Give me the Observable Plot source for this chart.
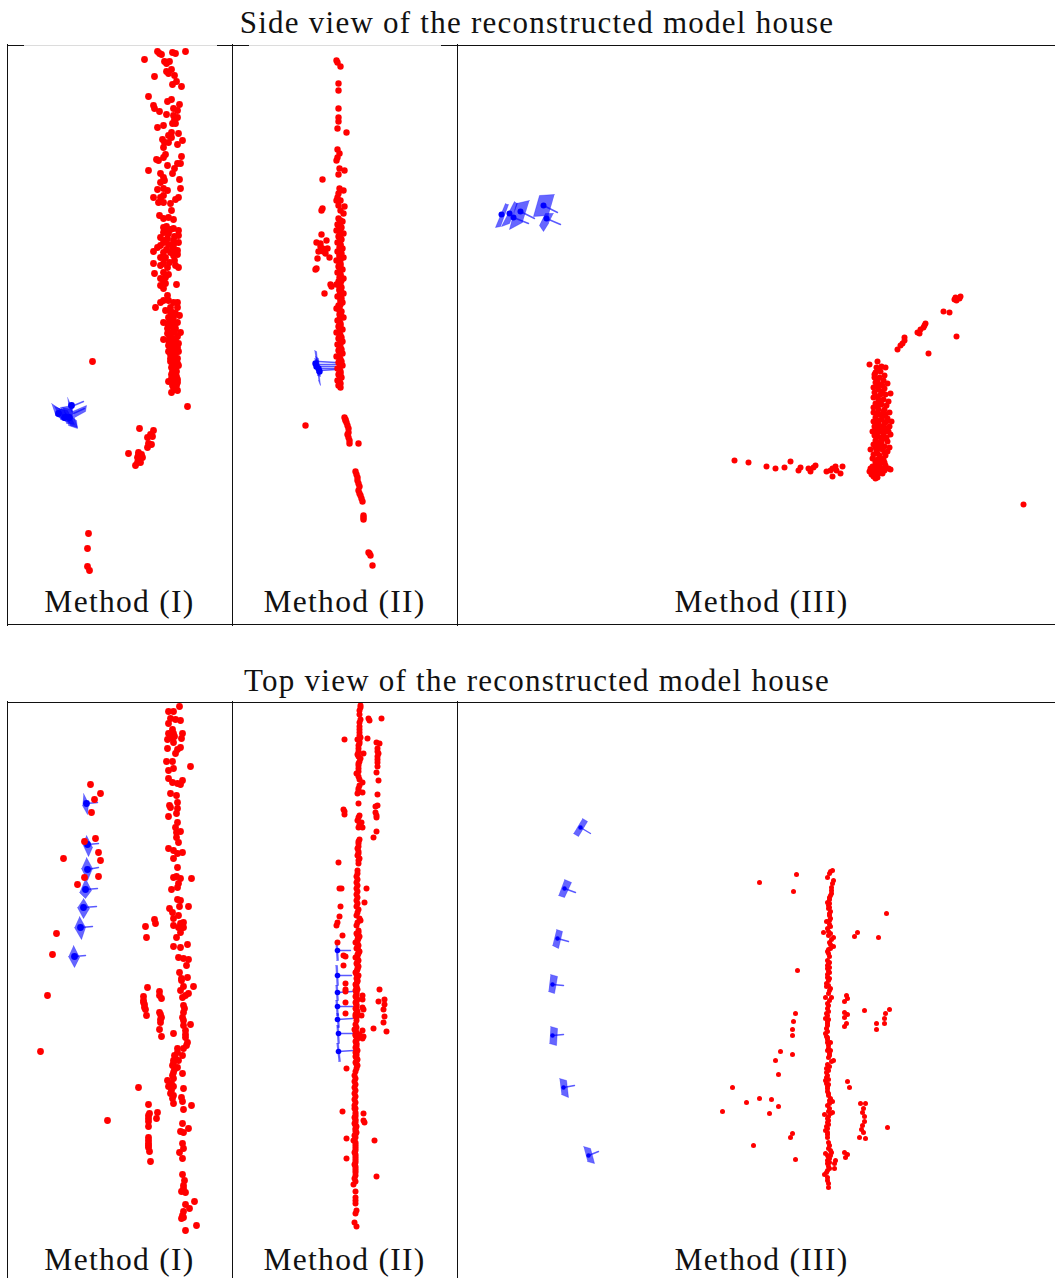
<!DOCTYPE html>
<html>
<head>
<meta charset="utf-8">
<script src="https://cdn.jsdelivr.net/npm/d3@7"></script>
<script src="https://cdn.jsdelivr.net/npm/@observablehq/plot@0.6"></script>
<style>
html,body{margin:0;padding:0;background:#fff}
#page{position:relative;width:1055px;height:1278px;overflow:hidden;font-family:"Liberation Serif",serif;color:#111}
.title{position:absolute;left:0;width:1074px;text-align:center;font-size:31px;line-height:36px;letter-spacing:1.24px;white-space:nowrap}
svg{position:absolute;background:transparent}
</style>
</head>
<body>
<div id="page"></div>
<script>
const titles = ["Side view of the reconstructed model house","Top view of the reconstructed model house"];
const methods = ["Method (I)","Method (II)","Method (III)"];

// Red scene points
const sideRed1 = [[157,51],[159,53],[161,54],[172,52],[175,53],[185,51],[144,59],[164,61],[169,61],[166,63],[154,76],[166,71],[168,73],[171,69],[174,75],[176,81],[172,84],[181,86],[148,96],[167,101],[171,99],[179,104],[173,108],[153,105],[154,108],[159,111],[166,114],[177,110],[173,115],[177,117],[174,119],[172,123],[175,123],[157,127],[163,125],[171,132],[168,135],[178,133],[171,137],[182,140],[177,144],[162,139],[164,142],[168,142],[163,147],[165,154],[163,157],[156,159],[158,160],[181,156],[167,165],[177,163],[180,163],[174,168],[172,173],[148,170],[160,173],[163,177],[179,179],[160,182],[164,180],[163,188],[157,189],[180,188],[167,190],[153,197],[160,197],[163,195],[158,202],[163,202],[170,203],[178,197],[175,199],[171,210],[159,215],[163,218],[168,217],[173,219],[163,227],[163,232],[173,228],[178,230],[178,235],[168,233],[160,237],[167,238],[173,240],[178,242],[163,242],[160,245],[157,247],[153,251],[173,245],[177,250],[172,248],[163,252],[160,257],[165,257],[173,255],[177,254],[153,263],[163,263],[160,265],[167,267],[175,265],[178,267],[154,273],[163,272],[160,278],[165,283],[160,285],[176,284],[163,288],[167,295],[155,307],[160,302],[163,300],[168,300],[173,302],[177,302],[170,307],[177,307],[165,310],[172,312],[175,313],[179,315],[168,317],[163,322],[167,323],[172,320],[177,322],[167,328],[175,328],
[163,339],[167,333],[172,332],[180,332],[168,340],[175,338],[168,345],[177,347],[178,351],[168,351],[173,355],[170,358],[177,358],[172,363],[178,365],[175,368],[173,373],[168,381],[173,382],[177,382],[173,387],[177,390],[171,392],[170,335],[175,342],[172,349],[175,352],[170,361],[176,362],[174,370],[176,376],[171,378],[176,385],[172,378],[174,360],[169,336],[178,343],[171,344],
[171,326],[174,331],[177,336],[172,340],[170,347],[173,345],[176,350],[170,354],[174,349],[175,357],[173,360],[177,363],[171,367],[173,367],[176,371],[172,371],[175,375],[171,374],[177,379],[174,380],[172,385],[175,384],[174,389],[166,232],[166,226],[170,229],[164,240],[168,244],[174,236],[166,249],[170,252],[175,250],[164,258],[169,262],[174,260],[168,274],[165,277],[163,280],[170,312],[173,317],[170,322],[174,325],
[92,361],[187,406],[139,428],[153,430],[150,434],[147,437],[152,436],[148,443],[151,444],[147,447],[128,453],[138,452],[137,457],[142,457],[138,460],[135,465],[137,462],[140,462],[138,454],[139,456],[141,454],[88,533],[87,548],[87,566],[89,570]];

const sideRed2 = [[336,60],[337,62],[340,66],[338,83],[338,90],[338,108],[338,117],[338,121],[337,128],[346,132],[337,149],[339,153],[337,157],[336,160],[339,168],[344,170],[338,174],[322,179],[322,208],[321,210],[339,188],[343,190],[337,197],[340,200],[344,206],[338,205],[340,210],[343,213],[338,193],[336,200],
[338,218],[342,221],[337,224],[341,227],[336,230],[343,233],[338,236],[341,239],[337,242],[340,245],[342,248],[337,251],[339,254],[343,257],[336,260],[340,263],[338,266],[342,269],[337,272],[340,275],[343,278],[338,281],[336,284],[341,287],[339,290],[343,293],[337,296],[340,299],[342,302],[338,305],[336,308],[341,311],[339,314],[343,317],[337,320],[340,323],[338,326],[342,329],[336,332],[340,335],[338,338],[342,341],[337,344],[340,347],[338,350],[342,353],[336,356],[340,359],[338,362],[342,365],[337,368],[340,371],[338,374],[341,377],[337,380],[340,383],[338,385],[340,387],
[340,220],[339,223],[340,226],[338,229],[340,232],[339,235],[340,238],[339,241],[340,244],[339,247],[340,250],[341,253],[339,256],[340,259],[339,262],[340,265],[340,268],[339,271],[340,274],[339,277],[341,280],[340,283],[339,286],[339,289],[341,292],[339,295],[341,298],[340,301],[340,304],[339,307],[339,310],[340,313],[341,316],[339,319],[339,322],[340,325],[340,328],[339,331],[339,334],[341,337],[340,340],[340,343],[339,346],[341,349],[340,352],[339,355],[339,358],[341,361],[340,364],[339,367],[339,370],[340,373],[340,376],[339,379],[339,382],
[321,234],[326,240],[316,242],[320,243],[322,248],[327,248],[318,251],[325,253],[317,258],[329,257],[316,268],[330,284],[324,293],[320,246],[323,251],[315,269],[331,286],
[305,425],[344,417],[346,422],[348,428],[348,437],[349,443],[358,443],[345,420],[347,425],[345,419],[348,432],[347,434],[349,440],
[355,471],[357,477],[358,483],[358,490],[360,495],[362,501],[363,515],[363,519],[369,553],[372,565],[356,474],[357,480],[359,486],[359,493],[361,498],[363,517],[368,552],[370,555]];

const sideRed3 = [[734,460],[748,462],[766,466],[775,468],[784,467],[790,461],[798,470],[800,467],[808,468],[810,471],[813,467],[815,465],[826,471],[830,470],[835,466],[832,468],[832,476],[842,466],[840,473],[836,470],
[877,361],[869,364],[885,367],[876,367],[881,366],[875,372],[880,371],[884,375],[874,377],[879,377],[883,380],[875,382],[880,384],[887,383],[873,387],[878,389],[884,388],[890,393],[874,392],[880,394],[885,394],[873,397],[878,399],[883,399],[888,401],[875,403],[881,404],[886,405],[873,407],[878,409],[884,409],[889,412],[873,412],[879,414],[885,414],[875,417],[881,419],[887,418],[891,421],[873,421],[878,423],[884,423],[889,426],[874,426],[880,428],[885,428],[872,431],[877,432],[883,433],[888,431],[874,435],[880,437],[886,437],[890,434],[875,440],[881,441],[887,441],[873,444],[878,445],[884,446],[889,447],[870,449],[876,450],[882,449],[887,451],[873,454],[879,455],[885,455],[872,458],[877,459],[883,459],[875,462],[880,463],[872,466],[878,466],[885,465],[888,468],[869,471],[873,470],[879,471],[884,470],[890,469],[871,474],[876,473],[873,476],[877,477],
[878,369],[874,374],[877,380],[882,385],[876,386],[882,391],[877,396],[880,401],[877,405],[883,411],[876,413],[882,416],[878,420],[886,421],[876,425],[882,426],[875,429],[880,431],[885,431],[877,436],[883,438],[878,442],[881,444],[875,447],[880,448],[884,452],[877,453],[881,458],[875,460],[884,462],[877,464],[881,468],[875,468],[882,473],[875,478],[878,473],[870,468],
[897,349],[900,345],[904,340],[904,337],[902,343],[928,353],[917,332],[919,333],[920,329],[923,327],[925,323],[924,325],[943,311],[949,312],[956,336],[954,299],[956,300],[959,298],[960,296],[955,297],[1023,504]];

const topRed1 = [[179,706],[168,711],[173,711],[170,718],[168,723],[175,719],[180,720],[172,729],[168,733],[173,733],[182,733],[167,739],[172,738],[173,742],[181,738],[170,735],[174,736],[167,748],[180,747],[177,749],[175,753],[166,761],[172,761],[190,766],[173,768],[168,770],[168,778],[172,782],[177,783],[182,780],[180,784],
[170,793],[176,795],[177,802],[169,805],[170,807],[177,808],[168,816],[176,813],[177,822],[175,827],[180,831],[176,832],[176,837],[178,842],[168,848],[173,850],[177,853],[182,852],[173,858],[177,867],[176,876],[173,877],[191,878],[180,878],[178,883],[171,889],[177,887],[177,899],[180,900],[188,906],[179,906],[169,908],[172,912],[178,915],[173,918],[183,922],[180,923],[173,925],[178,927],[183,927],[180,932],[176,937],[173,946],[180,947],[187,944],[178,957],[183,958],[188,959],[186,965],[179,972],[181,978],[187,977],
[154,919],[155,923],[145,926],[146,937],[90,784],[100,793],[94,799],[91,812],[95,838],[84,841],[98,852],[100,860],[63,858],[98,876],[84,877],[77,884],[56,933],[52,954],
[193,986],[147,987],[181,980],[183,986],[180,990],[188,993],[185,995],[182,997],[159,991],[159,995],[161,998],[143,996],[143,1000],[144,1004],[145,1009],[146,1015],[47,995],[40,1051],[183,1005],[183,1012],[182,1017],[159,1012],[161,1017],[160,1022],[159,1029],[161,1036],[190,1024],[183,1025],[185,1030],[173,1033],[185,1037],[187,1042],[183,1048],[177,1048],[174,1055],[182,1055],[178,1060],[172,1065],[173,1060],[177,1067],[173,1072],[182,1073],[167,1080],[173,1078],[168,1086],[173,1086],[138,1087],[183,1088],[170,1093],[172,1098],[181,1097],[173,1103],[182,1101],[191,1105],[183,1109],[148,1104],[157,1112],[149,1113],[148,1118],[156,1118],[148,1126],[107,1120],[182,1123],[188,1128],[180,1131],[183,1132],[148,1137],[148,1143],[148,1147],[149,1151],[150,1161],[182,1143],[183,1148],[179,1152],[182,1158],[182,1174],[184,1180],[183,1185],[181,1191],[185,1192],[194,1201],[185,1204],[189,1208],[183,1211],[183,1217],[181,1218],[196,1225],[185,1230],
[177,1052],[175,1058],[173,1063],[174,1069],[172,1075],[171,1083],[171,1090],[173,1095],[184,1008],[183,1020],[185,1034],[186,1045],[143,1002],[144,1007],[160,1014],[160,1019],[148,1115],[148,1121],[148,1140],[148,1145],[183,1188],[182,1215]];

const topRed2 = [[360,705],[359,710],[360,719],[368,718],[369,720],[381,718],[359,726],[359,732],[360,737],[344,739],[367,738],[357,739],[376,742],[379,743],[377,748],[378,753],[359,743],[358,748],[357,754],[363,753],[360,758],[377,759],[377,766],[358,765],[358,768],[376,772],[356,773],[359,779],[362,782],[378,780],[358,788],[357,793],[362,792],[377,794],[358,803],[377,805],[375,806],[343,809],[344,814],[375,812],[376,817],[359,815],[357,820],[361,822],[358,827],[362,827],[376,831],[373,837],[359,839],[358,843],[357,848],[357,855],[359,858],[358,863],[338,862],
[360,707],[359,714],[359,722],[359,729],[359,735],[359,741],[358,745],[358,751],[358,756],[359,761],[358,763],[358,771],[358,776],[359,785],[358,790],[358,817],[359,824],[377,751],[377,756],[377,762],[344,811],[376,815],[358,841],[358,846],[358,851],[358,853],[358,860],
[357,870],[357,873],[356,876],[357,879],[356,882],[357,885],[356,888],[357,891],[356,894],[357,897],[356,900],[357,903],[356,906],[358,909],[357,912],[356,915],[359,918],[360,920],[357,922],[356,925],
[341,888],[339,888],[366,888],[364,902],[340,906],[339,916],[337,922],[336,925],[342,935],[337,942],[343,955],[345,956],[343,965],[345,983],[345,989],[379,989],
[358,930],[356,933],[359,936],[357,939],[355,942],[358,945],[356,948],[359,951],[357,954],[355,957],[358,960],[356,963],[358,966],[357,969],[355,972],[358,975],[356,978],[357,981],[355,984],[356,987],[355,990],[356,993],[355,996],[357,999],[355,1002],[356,1005],[355,1008],[357,1011],[355,1014],[356,1017],[354,1029],[356,1032],[355,1035],[357,1038],[355,1041],[356,1044],[355,1047],[357,1050],[356,1053],[355,1056],[357,1059],[355,1062],[357,1065],[356,1068],[354,1075],[355,1078],[354,1081],[355,1084],[354,1087],[355,1090],[354,1093],[355,1096],[354,1099],[355,1102],[354,1105],[354,1108],[355,1114],[354,1117],[355,1120],[354,1123],[356,1126],[355,1129],[356,1132],[354,1135],[353,1140],[355,1144],[355,1148],[354,1152],[355,1156],[355,1160],[354,1164],[355,1168],[355,1172],[354,1178],[355,1181],[353,1184],[355,1191],[355,1197],[355,1200],[355,1203],[356,1210],[355,1213],[354,1222],[356,1226],
[358,932],[357,935],[358,938],[357,941],[357,944],[357,947],[358,950],[358,953],[357,956],[357,959],[357,962],[357,965],[357,968],[356,971],[356,974],[357,977],[357,980],[356,983],[356,986],[357,989],[356,992],[356,995],[356,998],[356,1001],[356,1004],[356,1007],[356,1010],[356,1013],[355,1016],[356,1020],[355,1024],[356,1027],[355,1031],[355,1034],[356,1037],[356,1040],[356,1043],[356,1046],[356,1049],[355,1052],[356,1055],[356,1058],[356,1061],[356,1064],[355,1071],
[355,1108],[355,1112],[355,1116],[355,1119],[355,1122],[355,1125],[355,1128],[355,1131],[355,1134],[355,1137],[355,1142],[355,1146],[355,1150],[355,1154],[355,1158],[355,1162],[355,1166],[355,1170],[355,1175],
[345,991],[345,1002],[345,1013],[346,1068],[384,999],[378,1001],[384,1004],[383,1009],[384,1016],[383,1022],[373,1028],[386,1031],[362,995],[362,999],[362,1007],[363,1009],[361,1015],[362,1030],[359,1034],[363,1036],[362,1038],[342,1111],[363,1113],[363,1120],[364,1122],[346,1138],[374,1140],[346,1158],[376,1176]];

const topRed3 = [[796,874],[759,882],[793,891],[886,913],[823,932],[857,932],[854,936],[878,937],[797,970],[864,1010],[889,1009],[885,1013],[884,1018],[884,1023],[876,1023],[876,1029],[846,995],[847,998],[844,1001],[844,1012],[847,1014],[844,1017],[846,1023],[844,1026],[795,1013],[793,1021],[792,1029],[792,1035],[780,1051],[792,1054],[775,1060],[778,1074],[732,1087],[759,1098],[746,1102],[771,1099],[778,1106],[722,1111],[769,1113],[792,1133],[790,1137],[753,1145],[795,1159],[847,1081],[849,1087],[860,1103],[865,1103],[863,1108],[862,1112],[864,1116],[864,1121],[862,1125],[861,1129],[863,1132],[859,1137],[865,1138],[887,1127],[844,1152],[847,1154],[845,1157],[835,1160],[834,1163],[834,1168],
[832,870],[830,871],[829,873],[827,877],[833,880],[832,883],[831,887],[831,890],[831,893],[830,895],[829,897],[827,902],[828,905],[828,908],[830,911],[829,913],[826,921],[830,918],[829,924],[827,928],[828,931],[828,935],[833,937],[831,939],[829,942],[830,944],[833,946],[828,949],[827,951],[828,953],[827,960],[828,963],[827,965],[827,968],[828,971],[827,974],[827,977],[828,980],[826,983],[826,986],[830,988],[829,990],[828,993],[825,997],[831,997],[829,1000],[828,1005],[826,1013],[827,1015],[825,1018],[827,1021],[827,1025],[826,1028],[825,1033],[826,1036],[827,1039],[827,1042],[830,1042],[828,1045],[827,1050],[830,1050],[829,1053],[828,1057],[833,1060],[831,1061],[827,1064],[826,1068],[826,1072],[827,1075],[826,1077],[825,1080],[826,1083],[827,1086],[827,1088],[827,1091],[828,1095],[830,1098],[832,1101],[829,1103],[827,1105],[829,1108],[832,1112],[830,1113],[824,1114],[827,1118],[827,1122],[826,1126],[825,1130],[827,1134],[827,1137],[829,1145],[828,1148],[830,1150],[831,1152],[825,1153],[827,1155],[828,1157],[830,1155],[827,1160],[827,1163],[828,1166],[827,1170],[826,1172],[824,1174],[827,1177],[827,1180],[828,1183],[828,1187],
[829,899],[829,903],[829,907],[829,915],[829,920],[830,926],[830,933],[830,948],[829,956],[829,962],[829,967],[829,972],[829,978],[828,985],[827,1003],[827,1008],[828,1011],[828,1019],[827,1023],[827,1031],[827,1037],[828,1048],[829,1055],[829,1066],[828,1070],[828,1079],[828,1084],[828,1093],[829,1100],[828,1111],[828,1116],[828,1120],[828,1124],[827,1128],[827,1132],[828,1142],[829,1158],[829,1162],[829,1168]];

// Camera planes, centres and viewing axes
const sideQuads1 = [[[51,403],[60,409],[64,420],[55,415]],[[54,406],[64,410],[69,422],[60,419]],[[58,408],[67,410],[74,424],[66,423]],[[62,407],[71,409],[77,427],[70,425]],[[67,397],[70,404],[72,412],[68,406]],[[72,411],[86,405],[85,411],[74,417]],[[64,412],[76,420],[77,428],[68,425]],[[60,407],[72,405],[72,414],[62,415]]];
const sideDots1 = [[58,413],[64,417],[69,417],[71,405]];
const sideAxes1 = [[[71,406],[83,401]],[[73,413],[84,408]]];

const sideQuads2 = [[[314,350],[316,351],[320,385],[318,380]],[[315,356],[318,358],[320,376],[317,375]],[[314,358],[318,360],[319,372],[316,372]]];
const sideDots2 = [[315,363],[316,366],[318,368],[319,371]];
const sideAxes2 = [[[318,361],[335,362]],[[318,364],[335,364]],[[318,366],[335,366]],[[319,368],[335,368]],[[320,370],[335,369]]];

const sideQuads3 = [[[505,203],[495,227],[500,226],[508,204]],[[514,201],[501,226],[509,223],[517,203]],[[529,200],[516,203],[509,229],[522,222]],[[554,194],[539,195],[533,216],[548,215]],[[553,213],[545,213],[539,225],[543,231],[548,223]]];
const sideDots3 = [[501,214],[509,213],[513,217],[520,211],[543,205],[546,218]];
const sideAxes3 = [[[520,211],[534,218]],[[513,217],[528,223]],[[543,205],[557,212]],[[546,218],[560,224]]];
const speck = [[691,142],[698,142]];

const topQuads1 = [[[83,793],[88,803],[87,814],[82,805]],[[86,835],[92,847],[88,856],[82,843]],[[86,857],[92,868],[87,880],[81,868]],[[85,878],[91,890],[85,898],[79,892]],[[83,898],[89,908],[83,918],[77,907]],[[79,916],[85,927],[81,939],[74,927]],[[73,945],[79,957],[74,967],[68,956]]];
const topDots1 = [[86,803],[87,844],[87,869],[85,889],[83,907],[80,927],[74,956]];
const topAxes1 = [[[86,803],[97,802]],[[87,844],[98,843]],[[87,869],[98,867]],[[85,889],[97,888]],[[83,907],[96,906]],[[80,927],[92,926]],[[74,956],[85,955]]];

const topQuads2 = [[[335,942],[337,942],[338,960],[336,960]],[[335,965],[337,965],[338,985],[336,985]],[[335,985],[337,985],[338,1000],[336,1000]],[[335,1000],[337,1000],[338,1015],[336,1015]],[[336,1013],[338,1013],[339,1027],[337,1027]],[[336,1025],[338,1025],[339,1043],[337,1043]],[[336,1043],[338,1043],[340,1061],[338,1061]]];
const topDots2 = [[337,950],[337,975],[337,992],[337,1006],[337,1019],[338,1033],[338,1051]];
const topAxes2 = [[[337,950],[350,950]],[[337,975],[351,975]],[[337,992],[352,991]],[[337,1006],[352,1006]],[[337,1019],[352,1018]],[[338,1033],[353,1033]],[[338,1051],[353,1050]]];

const topQuads3 = [[[582,818],[587,821],[578,836],[573,833]],[[564,879],[571,882],[564,897],[558,895]],[[556,929],[562,931],[558,948],[552,945]],[[550,974],[557,976],[554,993],[548,991]],[[550,1026],[557,1028],[556,1045],[549,1043]],[[559,1078],[566,1080],[568,1097],[561,1094]],[[583,1146],[590,1148],[594,1163],[587,1161]]];
const topDots3 = [[580,827],[564,888],[557,938],[552,984],[552,1035],[563,1087],[588,1155]];
const topAxes3 = [[[580,827],[590,833]],[[564,888],[575,892]],[[557,938],[568,941]],[[552,984],[563,985]],[[552,1035],[563,1034]],[[563,1087],[574,1085]],[[588,1155],[598,1151]]];

// Panel grid and caption positions in the same picture units
const columns = [[7,233],[232,458],[457,1055]];
const rows = [[44,626],[701,1281]];
const captionX = [119,344,761];
const captionY = [611,1269];
const topEdges = [
  [[[7,24],[24,217],[217,233]], [[232,249],[249,441],[441,458]], [[457,1055]]],
  [[[7,233]], [[232,458]], [[457,1055]]]
];

const flat = groups => groups.flatMap((g,i)=>g.map(([x,y])=>({x,y,k:i})));
const page = document.getElementById("page");

titles.forEach((t,i)=>{
  const d=document.createElement("div");d.className="title";d.textContent=t;
  d.style.top=(i?663:5)+"px";page.appendChild(d);
});

function panel(rowI,colI,{red,r,quads,dots,axes,dotR,extra}){
  const [x0,x1]=columns[colI],[y0,y1]=rows[rowI];
  const w=x1-x0,h=y1-y0;
  const segs=topEdges[rowI][colI];
  const marks=[
    Plot.line(flat(quads),{x:"x",y:"y",z:"k",fill:"#0000ff",fillOpacity:0.6,stroke:"#0000ff",strokeOpacity:0.3,strokeWidth:1}),
    Plot.line(flat(axes),{x:"x",y:"y",z:"k",stroke:"#0000ff",strokeOpacity:0.65,strokeWidth:1.4}),
    Plot.dot(dots,{x:d=>d[0],y:d=>d[1],r:dotR,fill:"#0000ff",stroke:"none"}),
    Plot.dot(red,{x:d=>d[0],y:d=>d[1],r,fill:"#ff0000",stroke:"none"}),
    Plot.ruleX([x0],{stroke:"#111",strokeWidth:1}),
    Plot.ruleY([y1-2],{x1:x0,x2:x1,stroke:"#111",strokeWidth:1}),
    ...segs.map(([a,b],i)=>Plot.ruleY([y0+1],{x1:a,x2:b,stroke:(rowI===0&&i===1&&segs.length>1)?"#dcdcdc":"#111",strokeWidth:1})),
    Plot.text([methods[colI]],{x:captionX[colI],y:captionY[rowI],text:d=>d,textAnchor:"middle",lineAnchor:"bottom",fontSize:31.5,fontFamily:"Liberation Serif",fill:"#111"})
  ];
  if(extra) marks.push(Plot.line(extra,{x:d=>d[0],y:d=>d[1],stroke:"#777",strokeWidth:1}));
  const svg=Plot.plot({width:w,height:h,margin:0,
    x:{domain:[x0,x1],axis:null},y:{domain:[y1,y0],axis:null},
    style:{background:"transparent",overflow:"hidden",letterSpacing:"1.3px"},marks});
  svg.style.left=x0+"px";svg.style.top=y0+"px";
  page.appendChild(svg);
}
panel(0,0,{red:sideRed1,r:3.4,quads:sideQuads1,dots:sideDots1,axes:sideAxes1,dotR:3.4});
panel(0,1,{red:sideRed2,r:3.2,quads:sideQuads2,dots:sideDots2,axes:sideAxes2,dotR:3.2});
panel(0,2,{red:sideRed3,r:3,quads:sideQuads3,dots:sideDots3,axes:sideAxes3,dotR:3});
panel(1,0,{red:topRed1,r:3.4,quads:topQuads1,dots:topDots1,axes:topAxes1,dotR:3.4});
panel(1,1,{red:topRed2,r:3,quads:topQuads2,dots:topDots2,axes:topAxes2,dotR:2.8});
panel(1,2,{red:topRed3,r:2.5,quads:topQuads3,dots:topDots3,axes:topAxes3,dotR:2.2});
</script>
</body>
</html>
